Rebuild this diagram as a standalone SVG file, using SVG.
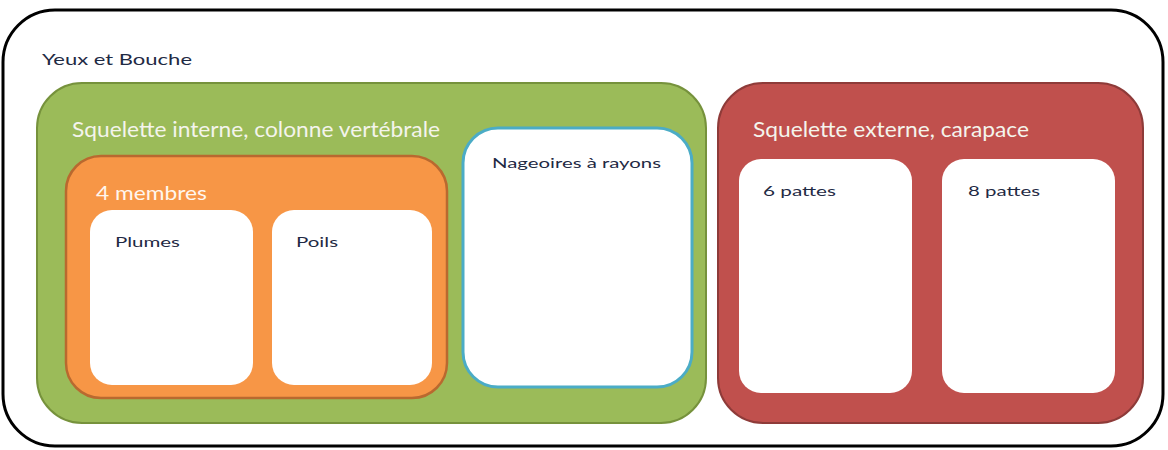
<svg xmlns="http://www.w3.org/2000/svg" width="1168" height="450" viewBox="0 0 1168 450">
<style>
text { font-family: Lato, "Open Sans", "Liberation Sans", sans-serif; }
.outer { fill: #ffffff; stroke: #000000; stroke-width: 3; }
.green { fill: #9BBB59; stroke: #76923C; stroke-width: 2; }
.orange { fill: #F79646; stroke: #B9692F; stroke-width: 2.5; }
.red { fill: #C0504D; stroke: #8E3B39; stroke-width: 2; }
.white { fill: #ffffff; stroke: none; }
.blue { fill: #ffffff; stroke: #4BACC6; stroke-width: 3; }
.title { fill: #F4F4EC; font-size: 21px; }
.sub { fill: #FFF6EE; font-size: 19px; }
.lbl { fill: #1F2A44; font-size: 14px; }
.top { fill: #1F2A44; font-size: 16px; }
</style>
<g id="root">
<rect class="outer" x="3" y="10" width="1160" height="436" rx="52" ry="52"/>
<text class="top" x="42" y="65" textLength="150" lengthAdjust="spacingAndGlyphs">Yeux et Bouche</text>
</g>
<g id="vertebres">
<rect class="green" x="37" y="83" width="669" height="340" rx="45" ry="45"/>
<text class="title" x="72" y="137" textLength="368" lengthAdjust="spacingAndGlyphs">Squelette interne, colonne vertébrale</text>
</g>
<g id="membres">
<rect class="orange" x="66" y="156" width="381" height="242" rx="35" ry="35"/>
<text class="sub" x="96" y="200" textLength="111" lengthAdjust="spacingAndGlyphs">4 membres</text>
</g>
<g id="plumes">
<rect class="white" x="90" y="210" width="163" height="175" rx="22" ry="22"/>
<text class="lbl" x="115" y="247" textLength="65" lengthAdjust="spacingAndGlyphs">Plumes</text>
</g>
<g id="poils">
<rect class="white" x="272" y="210" width="160" height="175" rx="22" ry="22"/>
<text class="lbl" x="296" y="247" textLength="42" lengthAdjust="spacingAndGlyphs">Poils</text>
</g>
<g id="nageoires">
<rect class="blue" x="463" y="128" width="229" height="259" rx="35" ry="35"/>
<text class="lbl" x="492" y="168" textLength="169" lengthAdjust="spacingAndGlyphs">Nageoires à rayons</text>
</g>
<g id="carapace">
<rect class="red" x="718" y="83" width="425" height="340" rx="45" ry="45"/>
<text class="title" x="753" y="137" textLength="276" lengthAdjust="spacingAndGlyphs">Squelette externe, carapace</text>
</g>
<g id="pattes6">
<rect class="white" x="739" y="159" width="173" height="234" rx="22" ry="22"/>
<text class="lbl" x="763" y="196" textLength="73" lengthAdjust="spacingAndGlyphs">6 pattes</text>
</g>
<g id="pattes8">
<rect class="white" x="942" y="159" width="173" height="234" rx="22" ry="22"/>
<text class="lbl" x="968" y="196" textLength="72" lengthAdjust="spacingAndGlyphs">8 pattes</text>
</g>
<g id="connectors"></g>
</svg>
